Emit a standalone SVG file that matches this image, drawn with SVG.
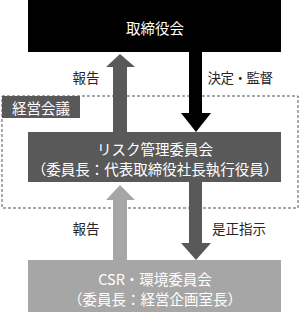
<svg xmlns="http://www.w3.org/2000/svg" width="300" height="314" viewBox="0 0 300 314">
<style>
text{font-family:"Noto Sans CJK JP","Noto Sans",sans-serif;text-anchor:middle;dominant-baseline:central}
.w{fill:#fff;font-size:14.5px}
.l{fill:#262626;font-size:13.5px}
</style>
<rect width="300" height="314" fill="#fff"/>
<g id="keiei">
<rect x="2" y="96" width="296" height="112" fill="none" stroke="#555" stroke-width="1" stroke-dasharray="3,2"/>
<rect x="2" y="96" width="78" height="22" fill="#595959"/>
<text x="41" y="107" class="w" font-size="15">経営会議</text>
</g>
<g id="connectors">
<path d="M113,132 V67 H106 L120,54 L135,67 H127 V132 Z" fill="#595959"/>
<path d="M189,52 V113 H181 L196,132 L211,113 H202 V52 Z" fill="#000"/>
<path d="M113,260 V200 H106 L120,185 L135,200 H127 V260 Z" fill="#a6a6a6"/>
<path d="M189,182 V243 H181 L196,260 L211,243 H202 V182 Z" fill="#595959"/>
<text x="86" y="77" class="l">報告</text>
<text x="240" y="77" class="l" letter-spacing="-0.5">決定・監督</text>
<text x="86" y="228" class="l">報告</text>
<text x="239" y="228" class="l">是正指示</text>
</g>
<g id="board">
<rect x="28" y="0" width="253" height="52" fill="#000"/>
<text x="155" y="27" class="w" font-size="15.5">取締役会</text>
</g>
<g id="risk">
<rect x="28" y="132" width="253" height="50" fill="#595959"/>
<text x="155" y="148" class="w">リスク管理委員会</text>
<text x="155" y="168" class="w">（委員長：代表取締役社長執行役員）</text>
</g>
<g id="csr">
<rect x="28" y="260" width="253" height="52" fill="#a6a6a6"/>
<text x="155" y="278" class="w">CSR・環境委員会</text>
<text x="155" y="298" class="w">（委員長：経営企画室長）</text>
</g>
</svg>
